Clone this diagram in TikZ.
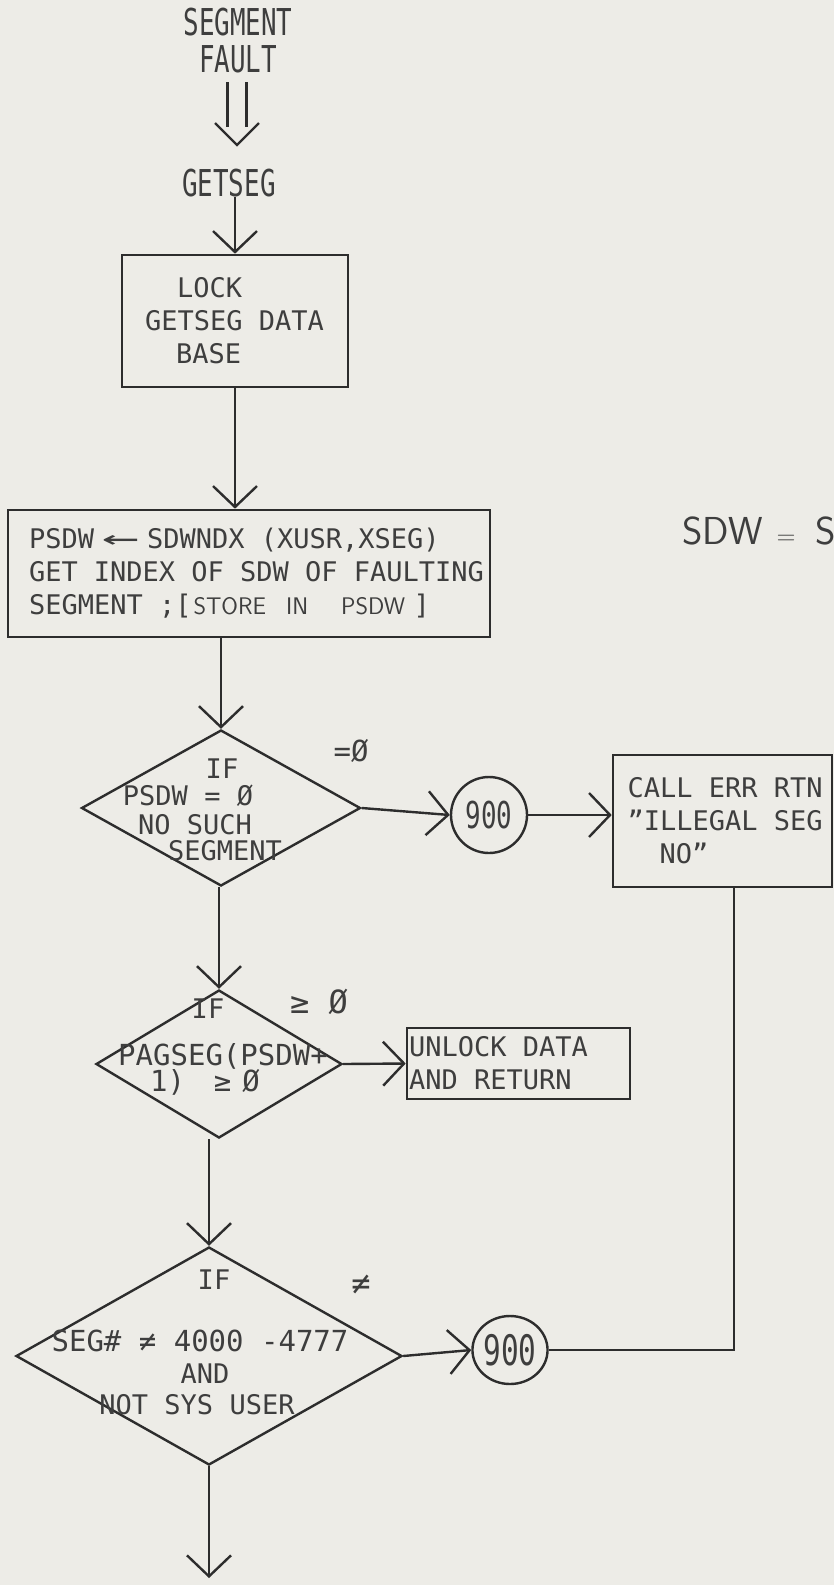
\documentclass[tikz,border=0pt]{standalone}
\usepackage{fontspec}
\usepackage{graphicx}
\usetikzlibrary{arrows.meta,shapes.geometric}
\definecolor{paper}{RGB}{237,236,231}
\definecolor{inkc}{RGB}{45,45,45}
\definecolor{txtc}{RGB}{62,62,62}
\newfontfamily\typfam{DejaVu Sans Mono}
\newfontfamily\condfam[FakeStretch=0.7]{DejaVu Sans Mono}
\newcommand\tyf{\typfam\fontsize{27}{33}\selectfont}
\newcommand\tyfb{\typfam\fontsize{29}{33}\selectfont}
\newcommand\tyfc{\typfam\fontsize{32}{33}\selectfont}
\newcommand\cndf{\condfam\fontsize{37}{37}\selectfont}
\newcommand\cndfb{\condfam\fontsize{42}{33}\selectfont}
\newcommand\hndf{\sffamily\fontsize{24}{24}\selectfont}
\begin{document}
\begin{tikzpicture}[x=1pt,y=-1pt,
  conn/.style={draw=inkc, line width=2.4pt},
  arr/.style={conn, -{Straight Barb[length=21pt,width=44pt]}},
  box/.style={draw=inkc, line width=2.6pt, rectangle, inner sep=0pt, font=\tyf, text=txtc},
  dia/.style={draw=inkc, line width=2.4pt, diamond, inner sep=0pt},
  lbl/.style={font=\tyf, text=txtc, inner sep=0pt},
  cond/.style={font=\cndf, text=txtc, inner sep=0pt},
  ring/.style={draw=inkc, line width=2.4pt, inner sep=0pt, text=txtc}]
\fill[paper] (0,0) rectangle (834,1585);
\useasboundingbox (0,0) rectangle (834,1585);

% title and entry
\node[cond, align=center] (fault) at (238,41) {SEGMENT\\FAULT};
\coordinate (dtip) at (237,145);
\draw[conn] ([shift={(-9.5pt,63pt)}]dtip) -- ([shift={(-9.5pt,18pt)}]dtip);
\draw[conn] ([shift={(9.5pt,63pt)}]dtip) -- ([shift={(9.5pt,18pt)}]dtip);
\draw[conn] ([shift={(-22pt,22pt)}]dtip) -- (dtip) -- ([shift={(22pt,22pt)}]dtip);
\node[cond] (getseg) at (229,183) {GETSEG};

% lock box
\node[box, text width=180pt, align=flush left, minimum width=226pt, minimum height=132pt] (lock) at (235,321)
  {\hspace*{32pt}LOCK\\GETSEG DATA\\\hspace*{31pt}BASE};
\draw[arr] (lock.north |- getseg.south) -- (lock.north);

% psdw box
\node[box, text width=470pt, align=flush left, minimum width=482pt, minimum height=127pt] (psdw) at (249,573.5)
  {\hspace*{15pt}PSDW\makebox[53pt]{\scalebox{2.3}[1.1]{←}}SDWNDX (XUSR,XSEG)\\
   \hspace*{15pt}GET INDEX OF SDW OF FAULTING\\
   \hspace*{15pt}SEGMENT ;[\makebox[222pt][l]{\hndf\hspace*{2pt}STORE\hspace*{20pt}IN\hspace*{33pt}PSDW}]};
\draw[arr] (lock.south) -- (lock.south |- psdw.north);

\node[anchor=west, inner sep=0pt, font=\sffamily\fontsize{39}{39}\selectfont, text=txtc] (sdw) at (682,531)
  {SDW\hspace*{14pt}{\fontsize{26}{26}\selectfont =}\hspace*{20pt}S};

% decision 1
\node[dia, minimum width=279pt, minimum height=156pt] (d1) at (221,808) {};
\draw[arr] (d1.north |- psdw.south) -- (d1.north);
\node[lbl] (d1a) at (222,769) {IF};
\node[lbl] (d1b) at (188,796) {PSDW = Ø};
\node[lbl] (d1c) at (195,825) {NO SUCH};
\node[lbl] (d1d) at (225,851) {SEGMENT};
\node[lbl, font=\tyfb] (eqz) at (351,751) {=Ø};

\node[ring, circle, minimum size=76pt, font=\cndf] (c1) at (489,815) {900};
\draw[arr] (d1.east) -- (c1.west);

\node[box, text width=206pt, align=flush left, minimum width=219pt, minimum height=132pt] (call) at (722.5,821)
  {\hspace*{8pt}CALL ERR RTN\\\hspace*{8pt}”ILLEGAL SEG\\\hspace*{40pt}NO”};
\draw[arr] (c1.east) -- (c1.east -| call.west);

% decision 2
\node[dia, minimum width=246pt, minimum height=148pt] (d2) at (219,1064) {};
\draw[arr] (d2.north |- d1.south) -- (d2.north);
\node[lbl] (d2a) at (208,1009) {IF};
\node[lbl, font=\tyfb] (d2b) at (223,1056) {PAGSEG(PSDW+};
\node[lbl, font=\tyfb] (d2c) at (205,1082) {1)\hspace*{29pt}≥\hspace*{11pt}Ø};
\node[lbl, font=\tyfc] (gez) at (319,1002) {≥ Ø};

\node[box, text width=219pt, align=flush left, minimum width=223pt, minimum height=71pt] (unlock) at (518.5,1063.5)
  {UNLOCK DATA\\AND RETURN};
\draw[arr] (d2.east) -- (unlock.west);

% decision 3
\node[dia, minimum width=386pt, minimum height=218pt] (d3) at (209,1356) {};
\draw[arr] (d3.north |- d2.south) -- (d3.north);
\node[lbl] (d3a) at (214,1280) {IF};
\node[lbl, font=\tyfb] (d3b) at (200,1341) {SEG\# ≠ 4000 -4777};
\node[lbl] (d3c) at (205,1374) {AND};
\node[lbl] (d3d) at (197,1405) {NOT SYS USER};
\node[lbl, font=\tyfc] (nez) at (361,1285) {≠};

\node[ring, ellipse, minimum width=75pt, minimum height=68pt, font=\cndfb] (c2) at (510,1350) {900};
\draw[arr] (d3.east) -- (c2.west);
\coordinate (corner) at (734,1350);
\draw[conn] (c2.east) -- (corner) -- (corner |- call.south);

\coordinate (endp) at (203,1578);
\draw[arr] (d3.south) -- (d3.south |- endp);
\end{tikzpicture}
\end{document}
